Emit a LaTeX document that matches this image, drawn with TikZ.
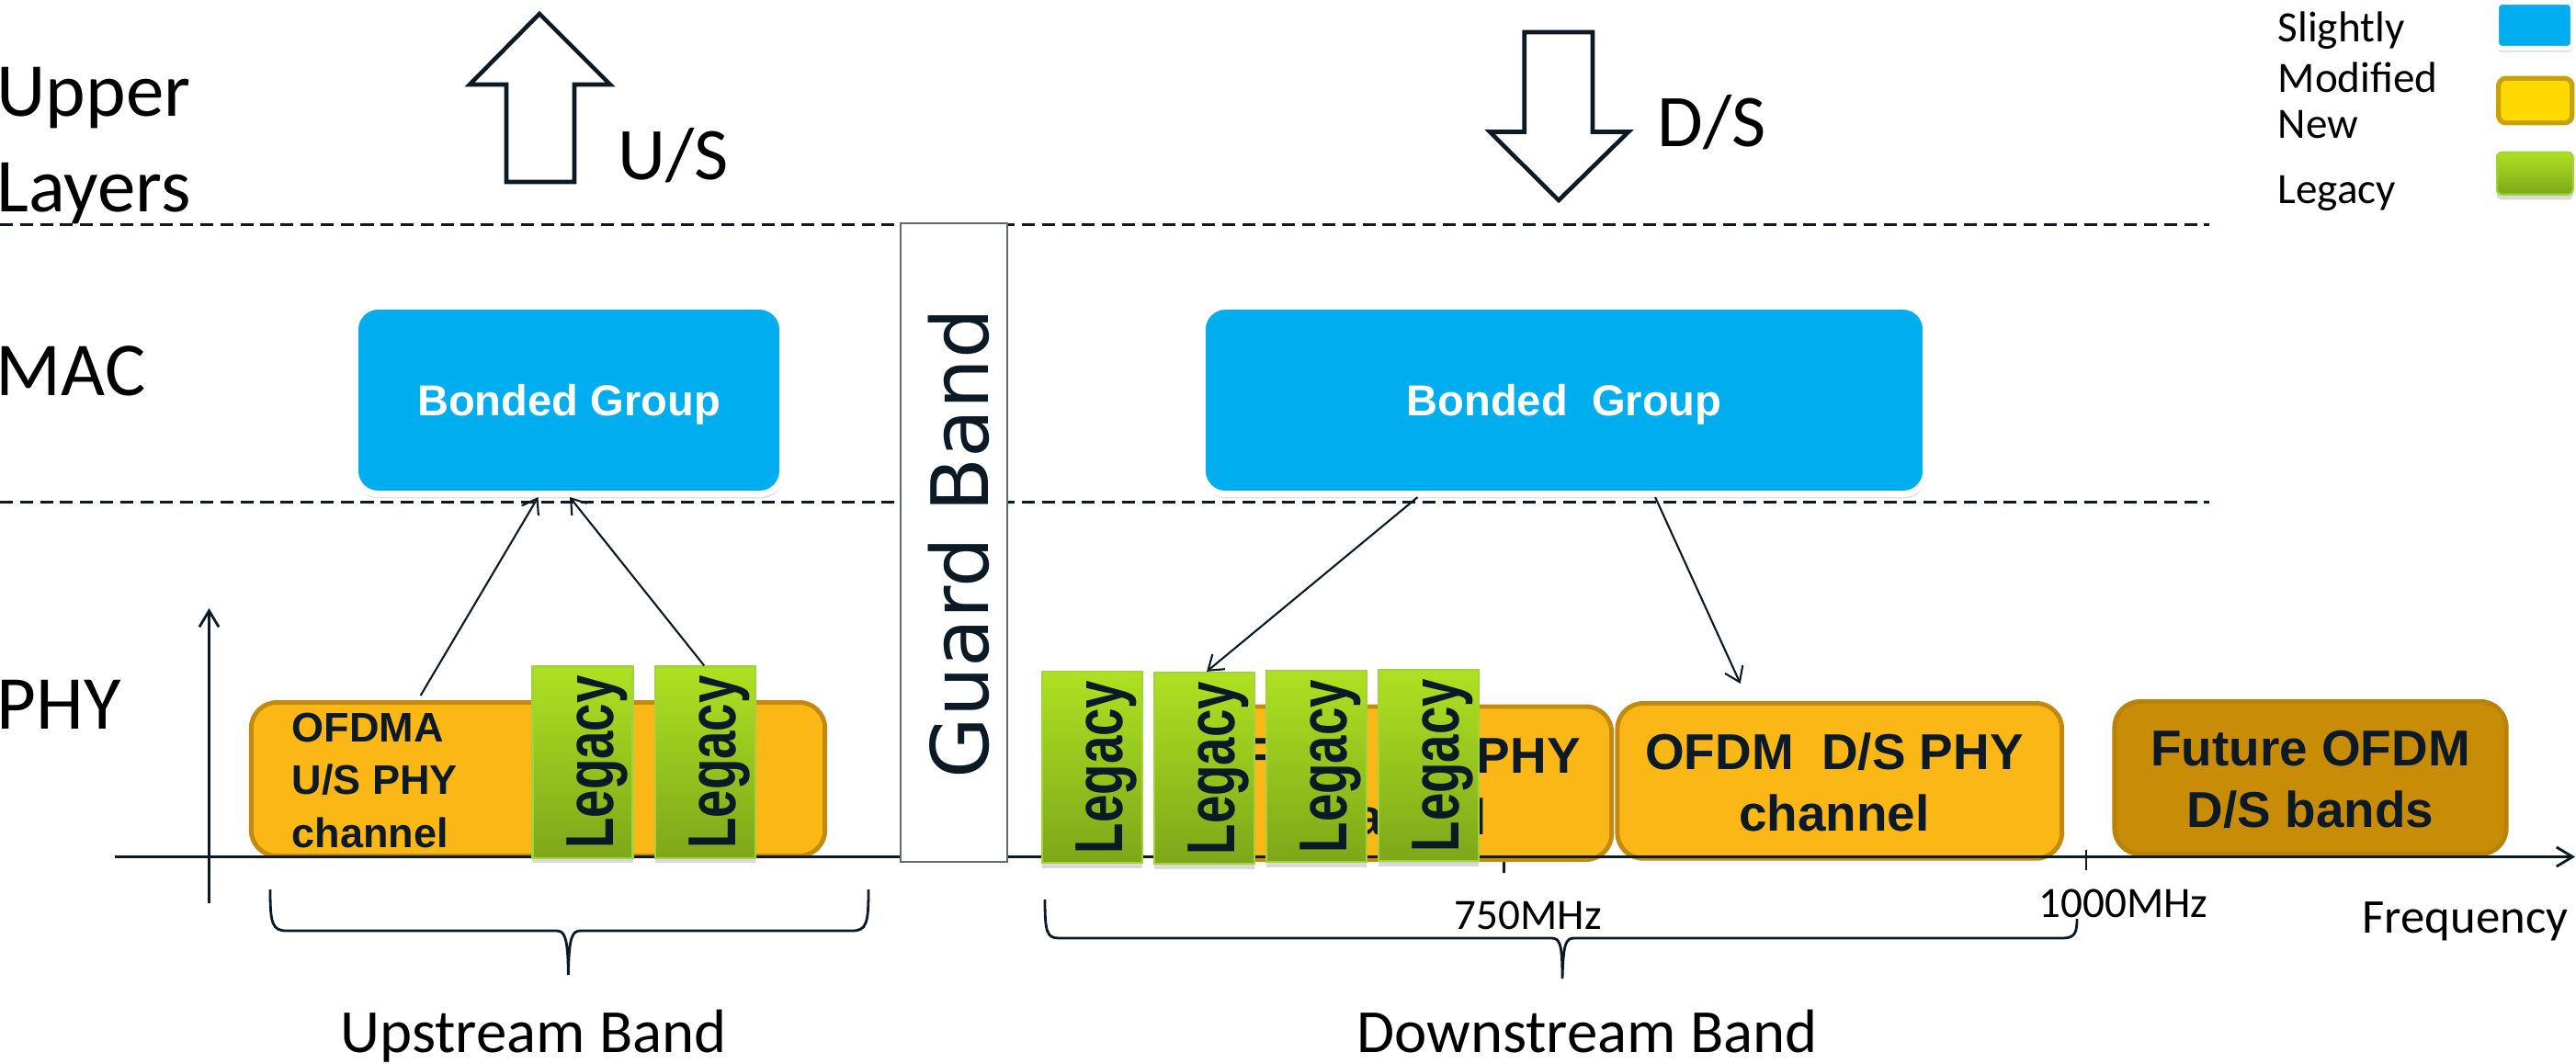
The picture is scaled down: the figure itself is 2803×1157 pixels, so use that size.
\documentclass[tikz,border=0pt]{standalone}
\usepackage{fontspec}
\setmainfont{Carlito}
\newfontfamily\boxfont{Liberation Sans}
\newfontfamily\legfont{Liberation Sans}[FakeStretch=0.74]
\newfontfamily\gbfont{DejaVu Sans}
\usetikzlibrary{arrows.meta,shadows,calc}

\definecolor{inkc}{HTML}{0B1A24}
\definecolor{macblue}{HTML}{00AEEF}
\definecolor{phyfill}{HTML}{FBB715}
\definecolor{phyedge}{HTML}{C38A12}
\definecolor{futfill}{HTML}{C98C06}
\definecolor{futedge}{HTML}{B98208}
\definecolor{legtop}{HTML}{AEE122}
\definecolor{legbot}{HTML}{7EA71A}
\definecolor{legedge}{HTML}{A0D43A}
\definecolor{newfill}{HTML}{FFD900}
\definecolor{newedge}{HTML}{C8A200}

\begin{document}
\begin{tikzpicture}[x=0.01cm,y=-0.01cm,
  layersep/.style={draw=inkc, line width=0.85pt, dash pattern=on 4pt off 2.2pt},
  axisline/.style={draw=inkc, line width=0.8pt},
  barb/.style={-{Straight Barb[length=5pt,width=6pt]}},
  conn/.style={draw=inkc, line width=0.6pt, -{Straight Barb[length=4.3pt,width=6pt]}},
  bigarrow/.style={draw=inkc, line width=1.3pt, fill=white, line join=miter},
  brace/.style={draw=inkc, line width=0.8pt},
  lbl/.style={inner sep=0pt, anchor=base west, text=black},
  layerlbl/.style={lbl, font=\fontsize{23.6}{28}\selectfont},
  dirlbl/.style={lbl, font=\fontsize{23}{28}\selectfont},
  keylbl/.style={lbl, font=\fontsize{13.4}{16}\selectfont},
  freqlbl/.style={lbl, font=\fontsize{13.4}{16}\selectfont},
  bandlbl/.style={inner sep=0pt, anchor=base, text=black, font=\fontsize{19}{23}\selectfont},
  bonded/.style={rectangle, rounded corners=0.25cm, fill=macblue, draw=white, line width=2pt,
    drop shadow={opacity=0.25, shadow xshift=0.3pt, shadow yshift=-1.4pt},
    text=white, font=\boxfont\bfseries\fontsize{13.4}{16}\selectfont, text depth=0pt,
    minimum height=2.04cm},
  phybox/.style={rectangle, rounded corners=0.28cm, fill=phyfill, draw=phyedge, line width=1.4pt},
  phytext/.style={inner sep=0pt, text=inkc, font=\boxfont\bfseries\fontsize{15.6}{19.06}\selectfont,
    align=center, anchor=north},
  legacybox/.style={rectangle, top color=legtop, bottom color=legbot, draw=legedge, line width=0.6pt,
    drop shadow={opacity=0.3, shadow xshift=0pt, shadow yshift=-1.6pt},
    minimum width=1.09cm, minimum height=2.08cm, inner sep=0pt},
  legacytext/.style={rotate=90, anchor=base, inner sep=0pt, text=inkc,
    font=\legfont\bfseries\fontsize{21}{24}\selectfont},
]
\useasboundingbox (0,0) rectangle (2803,1157);

% layer separators
\draw[layersep] (0,244) -- (2404,244);
\draw[layersep] (0,546.5) -- (2404,546.5);

% layer names
\node[layerlbl] (upper) at (-4,126) {Upper};
\node[layerlbl] (layers) at (-4,230) {Layers};
\node[layerlbl] (mac) at (-5,430.5) {MAC};
\node[layerlbl] (phy) at (-4,793) {PHY};

% direction arrows
\draw[bigarrow] (551,198) -- (551,92) -- (511,92) -- (587,15) -- (664,92) -- (625,92) -- (625,198) -- cycle;
\node[dirlbl] (us) at (672,195) {U/S};
\draw[bigarrow] (1658.7,35) -- (1733,35) -- (1733,143.5) -- (1772,143.5) -- (1696,218) -- (1621,143.5) -- (1658.7,143.5) -- cycle;
\node[dirlbl] (ds) at (1803,159) {D/S};

% frequency ticks (behind the channels)
\draw[axisline] (1636.7,925) -- (1636.7,950);
\draw[axisline] (2270,925) -- (2270,947);

% PHY channels
\node[phybox, minimum width=6.24cm, minimum height=1.67cm] (ofdmaU) at (585.5,848) {};
\node[phytext, anchor=north west, align=left, font=\boxfont\bfseries\fontsize{12.8}{16.4}\selectfont]
  (ofdmaUt) at (317,775) {OFDMA\\U/S PHY\\channel};
\node[phybox, minimum width=4.92cm, minimum height=1.665cm] (dsA) at (1507.5,852.25) {};
\node[phytext] (dsAt) at (1514,801) {OFDM\ \ D/S PHY\\channel};
\node[phybox, minimum width=4.835cm, minimum height=1.687cm] (dsB) at (2001.75,849.85) {};
\node[phytext] (dsBt) at (1996,797) {OFDM\ \ D/S PHY\\channel};
\node[phybox, fill=futfill, draw=futedge, minimum width=4.26cm, minimum height=1.66cm] (fut) at (2514,846.5) {};
\node[phytext] (futt) at (2514,794) {Future OFDM\\D/S bands};

% axes
\draw[axisline, barb] (125,932.5) -- (2802,932.5);
\draw[axisline, barb] (227.5,983) -- (227.5,662);

% guard band
\node[rectangle, draw=inkc!65, line width=0.5pt, fill=white, minimum width=1.16cm, minimum height=6.95cm, inner sep=0pt]
  (gb) at (1038,590.5) {};
\node[rotate=90, anchor=base, inner sep=0pt, text=inkc, font=\gbfont\fontsize{24.5}{29}\selectfont]
  (gbt) at (1075,592) {Guard Band};

% legacy channels
\node[legacybox] (lU1) at (634,829.5) {};
\node[legacybox] (lU2) at (767.2,829.5) {};
\node[legacybox] (lD1) at (1188.25,834.85) {};
\node[legacybox] (lD2) at (1310.8,836) {};
\node[legacybox] (lD3) at (1432.15,834) {};
\node[legacybox] (lD4) at (1554.3,833) {};
\foreach \b in {lU1,lU2,lD1,lD2,lD3,lD4}
  \node[legacytext] (\b t) at ([xshift=0.33cm]\b.center) {Legacy};

% MAC bonded groups
\node[bonded, minimum width=4.65cm] (bgU) at (619,435.5) {Bonded Group};
\node[bonded, minimum width=7.87cm] (bgD) at (1702,435.5) {Bonded\ \ Group};

% channel to group associations
\draw[conn] ([xshift=-1.278cm,yshift=0.05cm]ofdmaU.north) -- ([xshift=-0.335cm]bgU.south);
\draw[conn] ([xshift=-0.01cm]lU2.north) -- ([xshift=0.01cm]bgU.south);
\draw[conn] ([xshift=-1.594cm]bgD.south) -- ([xshift=0.022cm]lD2.north);
\draw[conn] ([xshift=0.99cm]bgD.south) -- ([xshift=-1.08cm,yshift=0.19cm]dsB.north);

% frequency marks
\node[freqlbl] (f750) at (1582,1011.7) {750MHz};
\node[freqlbl] (f1000) at (2218,998) {1000MHz};
\node[lbl, font=\fontsize{15}{18}\selectfont] (freq) at (2570,1015) {Frequency};

% band braces
\draw[brace] (294,968) .. controls (294,1005) and (296,1013) .. (312,1013) -- (605,1013)
  .. controls (614,1013) and (618,1018) .. (618.4,1061)
  .. controls (619,1018) and (623,1013) .. (632,1013) -- (927,1013)
  .. controls (943,1013) and (945,1005) .. (945,968);
\draw[brace] (1137,979) .. controls (1137,1014) and (1139,1021) .. (1152,1021) -- (1688,1021)
  .. controls (1697,1021) and (1700,1026) .. (1700,1065)
  .. controls (1701,1026) and (1704,1021) .. (1713,1021) -- (2245,1021)
  .. controls (2258,1021) and (2260,1014) .. (2260,1000);
\node[bandlbl] (usband) at (580.5,1145) {Upstream Band};
\node[bandlbl] (dsband) at (1727,1145) {Downstream Band};

% key
\node[keylbl] (k1) at (2478,45) {Slightly};
\node[keylbl] (k2) at (2478,100) {Modified};
\node[keylbl] (k3) at (2478,150) {New};
\node[keylbl] (k4) at (2478,221.7) {Legacy};
\node[rectangle, rounded corners=0.06cm, fill=macblue, draw=white, line width=1.5pt,
  drop shadow={opacity=0.3, shadow xshift=0pt, shadow yshift=-1.2pt},
  minimum width=0.83cm, minimum height=0.5cm, inner sep=0pt] (keyBlue) at (2758,27.5) {};
\node[rectangle, rounded corners=0.08cm, fill=newfill, draw=newedge, line width=1.5pt,
  minimum width=0.8cm, minimum height=0.484cm, inner sep=0pt] (keyNew) at (2758.7,109.5) {};
\node[legacybox, rounded corners=0.06cm, minimum width=0.83cm, minimum height=0.46cm] (keyLeg) at (2758.3,188.7) {};
\end{tikzpicture}
\end{document}
